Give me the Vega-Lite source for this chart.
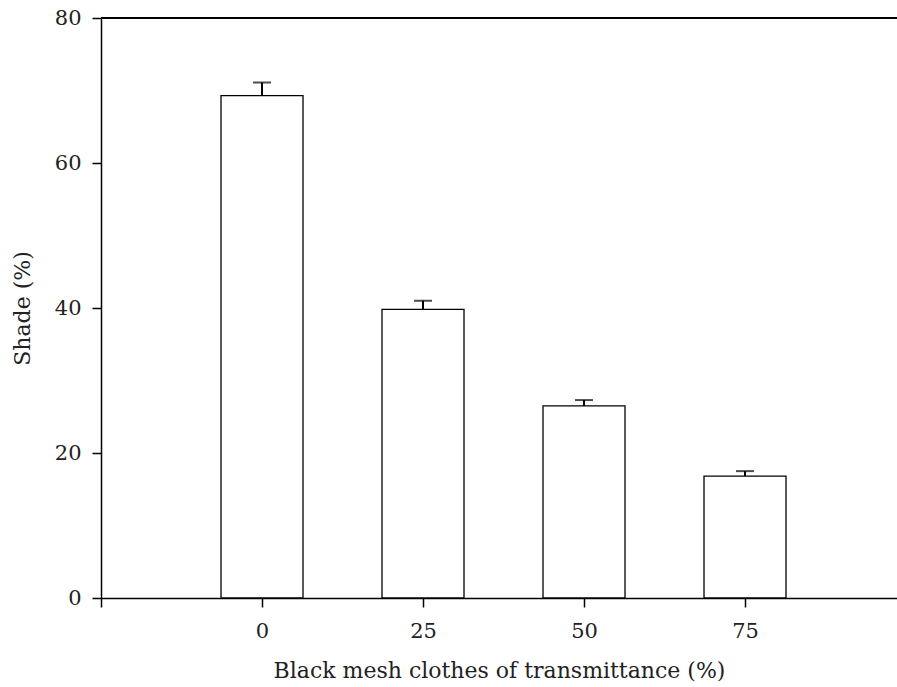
{
  "$schema": "https://vega.github.io/schema/vega-lite/v6.json",
  "width": 796,
  "height": 580,
  "autosize": {"type": "none"},
  "padding": {"left": 101, "top": 18, "right": 0, "bottom": 89},
  "background": "white",
  "config": {
    "view": {"stroke": null},
    "font": "DejaVu Serif",
    "axis": {
      "grid": false,
      "domainColor": "black",
      "domainWidth": 1.5,
      "tickColor": "black",
      "tickWidth": 1.5,
      "tickSize": 9,
      "labelColor": "#222",
      "labelFont": "DejaVu Serif",
      "labelFontSize": 21,
      "titleFont": "DejaVu Serif",
      "titleFontSize": 22,
      "titleFontWeight": "normal",
      "titleColor": "#222"
    }
  },
  "data": {
    "values": [
      {"transmittance": 0, "shade": 69.3, "upper": 71.1},
      {"transmittance": 25, "shade": 39.8, "upper": 41.0},
      {"transmittance": 50, "shade": 26.5, "upper": 27.3},
      {"transmittance": 75, "shade": 16.8, "upper": 17.5}
    ]
  },
  "layer": [
    {
      "mark": {"type": "rule", "color": "black", "strokeWidth": 2},
      "encoding": {
        "x": {"field": "transmittance", "type": "quantitative"},
        "y": {"field": "shade", "type": "quantitative"},
        "y2": {"field": "upper"}
      }
    },
    {
      "mark": {"type": "tick", "orient": "horizontal", "color": "black", "size": 18, "thickness": 2},
      "encoding": {
        "x": {"field": "transmittance", "type": "quantitative"},
        "y": {"field": "upper", "type": "quantitative"}
      }
    },
    {
      "mark": {"type": "bar", "size": 82, "fill": "white", "stroke": "black", "strokeWidth": 1.3},
      "encoding": {
        "x": {
          "field": "transmittance",
          "type": "quantitative",
          "scale": {"domain": [-25, 98.6], "nice": false, "zero": false, "padding": 0},
          "axis": {
            "values": [-25, 0, 25, 50, 75],
            "labelExpr": "datum.value < 0 ? '' : datum.label",
            "labelPadding": 13,
            "title": "Black mesh clothes of transmittance (%)",
            "titlePadding": 19
          }
        },
        "y": {
          "field": "shade",
          "type": "quantitative",
          "scale": {"domain": [0, 80], "nice": false},
          "axis": {
            "values": [0, 20, 40, 60, 80],
            "labelPadding": 11,
            "title": "Shade (%)",
            "titlePadding": 20
          }
        }
      }
    },
    {
      "mark": {"type": "rule", "color": "black", "strokeWidth": 1.5},
      "encoding": {"y": {"datum": 80}}
    }
  ]
}
